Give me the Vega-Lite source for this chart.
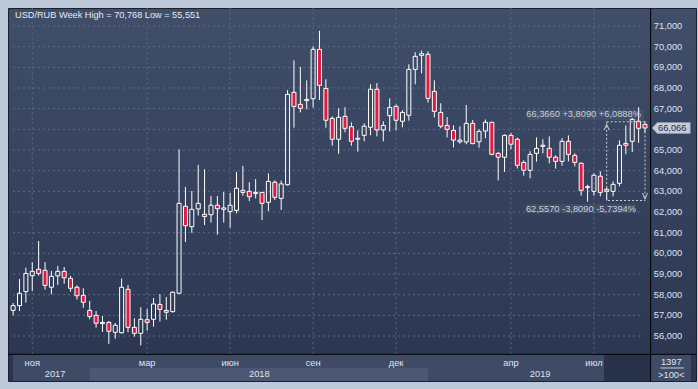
{
  "$schema": "https://vega.github.io/schema/vega-lite/v6.json",
  "width": 688,
  "height": 373,
  "autosize": {"type": "none"},
  "padding": {"left": 8, "top": 8, "right": 2, "bottom": 8},
  "background": "#bdc8d8",
  "datasets": {
    "candles": [
      {"date": "2017-10-09", "open": 57.24, "high": 57.60, "low": 57.00, "close": 57.47},
      {"date": "2017-10-16", "open": 57.47, "high": 58.76, "low": 57.21, "close": 58.07},
      {"date": "2017-10-23", "open": 58.15, "high": 59.31, "low": 57.62, "close": 59.03},
      {"date": "2017-10-30", "open": 58.92, "high": 59.57, "low": 58.18, "close": 59.13},
      {"date": "2017-11-06", "open": 59.23, "high": 60.60, "low": 58.92, "close": 59.03},
      {"date": "2017-11-13", "open": 59.18, "high": 59.58, "low": 58.24, "close": 58.45},
      {"date": "2017-11-20", "open": 58.36, "high": 59.15, "low": 58.02, "close": 58.89},
      {"date": "2017-11-27", "open": 58.91, "high": 59.39, "low": 58.47, "close": 59.13},
      {"date": "2017-12-04", "open": 59.13, "high": 59.34, "low": 58.53, "close": 58.82},
      {"date": "2017-12-11", "open": 58.79, "high": 58.91, "low": 58.15, "close": 58.31},
      {"date": "2017-12-18", "open": 58.36, "high": 58.45, "low": 57.76, "close": 57.95},
      {"date": "2017-12-25", "open": 57.97, "high": 58.31, "low": 57.37, "close": 57.63},
      {"date": "2018-01-01", "open": 57.24, "high": 57.70, "low": 56.81, "close": 56.95},
      {"date": "2018-01-08", "open": 57.00, "high": 57.21, "low": 56.41, "close": 56.62},
      {"date": "2018-01-15", "open": 56.60, "high": 56.97, "low": 56.20, "close": 56.66},
      {"date": "2018-01-22", "open": 56.66, "high": 56.73, "low": 55.62, "close": 56.23},
      {"date": "2018-01-29", "open": 56.18, "high": 56.63, "low": 55.87, "close": 56.52},
      {"date": "2018-02-05", "open": 56.16, "high": 58.78, "low": 56.12, "close": 58.36},
      {"date": "2018-02-12", "open": 58.26, "high": 58.47, "low": 56.18, "close": 56.42},
      {"date": "2018-02-19", "open": 56.42, "high": 56.86, "low": 55.97, "close": 56.13},
      {"date": "2018-02-26", "open": 56.13, "high": 57.39, "low": 55.551, "close": 56.81},
      {"date": "2018-03-05", "open": 56.79, "high": 57.31, "low": 56.26, "close": 56.66},
      {"date": "2018-03-12", "open": 56.81, "high": 57.84, "low": 56.45, "close": 57.55},
      {"date": "2018-03-19", "open": 57.53, "high": 58.03, "low": 56.70, "close": 57.29},
      {"date": "2018-03-26", "open": 57.24, "high": 57.89, "low": 56.79, "close": 57.15},
      {"date": "2018-04-02", "open": 57.18, "high": 58.16, "low": 57.13, "close": 58.12},
      {"date": "2018-04-09", "open": 58.07, "high": 65.03, "low": 58.03, "close": 62.42},
      {"date": "2018-04-16", "open": 62.28, "high": 63.21, "low": 60.55, "close": 61.34},
      {"date": "2018-04-23", "open": 61.29, "high": 63.02, "low": 60.99, "close": 62.13},
      {"date": "2018-04-30", "open": 62.15, "high": 64.28, "low": 61.83, "close": 62.42},
      {"date": "2018-05-07", "open": 61.89, "high": 64.07, "low": 61.37, "close": 61.78},
      {"date": "2018-05-14", "open": 61.87, "high": 62.78, "low": 61.49, "close": 62.33},
      {"date": "2018-05-21", "open": 62.33, "high": 62.78, "low": 60.91, "close": 62.16},
      {"date": "2018-05-28", "open": 62.13, "high": 62.97, "low": 61.49, "close": 62.20},
      {"date": "2018-06-04", "open": 62.02, "high": 62.92, "low": 61.24, "close": 62.33},
      {"date": "2018-06-11", "open": 62.08, "high": 63.94, "low": 61.94, "close": 63.15},
      {"date": "2018-06-18", "open": 63.05, "high": 64.23, "low": 62.79, "close": 62.95},
      {"date": "2018-06-25", "open": 63.00, "high": 63.44, "low": 62.53, "close": 62.74},
      {"date": "2018-07-02", "open": 62.89, "high": 63.60, "low": 62.66, "close": 62.95},
      {"date": "2018-07-09", "open": 62.95, "high": 62.97, "low": 61.61, "close": 62.42},
      {"date": "2018-07-16", "open": 62.47, "high": 63.87, "low": 62.05, "close": 63.48},
      {"date": "2018-07-23", "open": 63.44, "high": 63.53, "low": 62.58, "close": 62.71},
      {"date": "2018-07-30", "open": 62.66, "high": 63.52, "low": 62.10, "close": 63.36},
      {"date": "2018-08-06", "open": 63.32, "high": 67.90, "low": 63.28, "close": 67.69},
      {"date": "2018-08-13", "open": 67.79, "high": 69.34, "low": 66.08, "close": 67.11},
      {"date": "2018-08-20", "open": 67.21, "high": 69.02, "low": 66.82, "close": 67.02},
      {"date": "2018-08-27", "open": 67.39, "high": 68.37, "low": 66.97, "close": 67.45},
      {"date": "2018-09-03", "open": 67.48, "high": 70.02, "low": 67.05, "close": 69.87},
      {"date": "2018-09-10", "open": 69.87, "high": 70.768, "low": 67.42, "close": 68.13},
      {"date": "2018-09-17", "open": 67.98, "high": 68.42, "low": 66.08, "close": 66.44},
      {"date": "2018-09-24", "open": 66.53, "high": 66.63, "low": 65.21, "close": 65.52},
      {"date": "2018-10-01", "open": 65.52, "high": 67.02, "low": 64.82, "close": 66.58},
      {"date": "2018-10-08", "open": 66.63, "high": 67.07, "low": 65.86, "close": 66.05},
      {"date": "2018-10-15", "open": 66.13, "high": 66.34, "low": 65.21, "close": 65.42},
      {"date": "2018-10-22", "open": 65.52, "high": 65.95, "low": 64.92, "close": 65.57},
      {"date": "2018-10-29", "open": 65.71, "high": 66.29, "low": 65.42, "close": 66.15},
      {"date": "2018-11-05", "open": 66.10, "high": 68.18, "low": 65.71, "close": 67.94},
      {"date": "2018-11-12", "open": 67.94, "high": 68.24, "low": 65.66, "close": 65.97},
      {"date": "2018-11-19", "open": 65.97, "high": 66.39, "low": 65.42, "close": 66.19},
      {"date": "2018-11-26", "open": 66.66, "high": 67.50, "low": 65.90, "close": 67.06},
      {"date": "2018-12-03", "open": 67.11, "high": 67.21, "low": 65.95, "close": 66.44},
      {"date": "2018-12-10", "open": 66.39, "high": 66.92, "low": 66.10, "close": 66.82},
      {"date": "2018-12-17", "open": 66.68, "high": 69.15, "low": 66.42, "close": 68.90},
      {"date": "2018-12-24", "open": 68.90, "high": 69.73, "low": 68.18, "close": 69.53},
      {"date": "2018-12-31", "open": 69.58, "high": 69.81, "low": 68.71, "close": 69.66},
      {"date": "2019-01-07", "open": 69.63, "high": 69.77, "low": 67.29, "close": 67.50},
      {"date": "2019-01-14", "open": 67.84, "high": 68.37, "low": 66.58, "close": 66.87},
      {"date": "2019-01-21", "open": 66.82, "high": 67.26, "low": 66.05, "close": 66.15},
      {"date": "2019-01-28", "open": 66.19, "high": 66.60, "low": 65.61, "close": 66.00},
      {"date": "2019-02-04", "open": 65.95, "high": 66.19, "low": 65.13, "close": 65.48},
      {"date": "2019-02-11", "open": 65.40, "high": 66.15, "low": 65.31, "close": 65.48},
      {"date": "2019-02-18", "open": 65.39, "high": 67.18, "low": 65.28, "close": 66.29},
      {"date": "2019-02-25", "open": 66.29, "high": 66.45, "low": 65.28, "close": 65.31},
      {"date": "2019-03-04", "open": 65.40, "high": 66.00, "low": 65.11, "close": 65.90},
      {"date": "2019-03-11", "open": 65.92, "high": 66.48, "low": 65.57, "close": 66.34},
      {"date": "2019-03-18", "open": 66.34, "high": 66.37, "low": 64.74, "close": 64.79},
      {"date": "2019-03-25", "open": 64.84, "high": 64.90, "low": 63.53, "close": 64.65},
      {"date": "2019-04-01", "open": 64.65, "high": 65.76, "low": 63.94, "close": 65.71},
      {"date": "2019-04-08", "open": 65.71, "high": 65.82, "low": 65.03, "close": 65.28},
      {"date": "2019-04-15", "open": 65.52, "high": 65.60, "low": 64.10, "close": 64.26},
      {"date": "2019-04-22", "open": 64.40, "high": 64.50, "low": 63.76, "close": 64.02},
      {"date": "2019-04-29", "open": 64.02, "high": 64.94, "low": 63.63, "close": 64.79},
      {"date": "2019-05-06", "open": 64.84, "high": 65.61, "low": 64.44, "close": 65.08},
      {"date": "2019-05-13", "open": 65.18, "high": 65.52, "low": 64.84, "close": 65.23},
      {"date": "2019-05-20", "open": 65.08, "high": 65.66, "low": 64.36, "close": 64.65},
      {"date": "2019-05-27", "open": 64.65, "high": 64.74, "low": 64.10, "close": 64.45},
      {"date": "2019-06-03", "open": 64.45, "high": 65.57, "low": 64.24, "close": 65.42},
      {"date": "2019-06-10", "open": 65.42, "high": 65.71, "low": 64.45, "close": 64.79},
      {"date": "2019-06-17", "open": 64.74, "high": 64.84, "low": 64.21, "close": 64.40},
      {"date": "2019-06-24", "open": 64.36, "high": 64.40, "low": 62.79, "close": 63.05},
      {"date": "2019-07-01", "open": 63.18, "high": 63.32, "low": 62.50, "close": 63.23},
      {"date": "2019-07-08", "open": 63.00, "high": 63.87, "low": 62.79, "close": 63.78},
      {"date": "2019-07-15", "open": 63.73, "high": 63.97, "low": 62.76, "close": 62.95},
      {"date": "2019-07-22", "open": 63.10, "high": 63.20, "low": 62.557, "close": 63.00},
      {"date": "2019-07-29", "open": 63.00, "high": 63.48, "low": 62.76, "close": 63.34},
      {"date": "2019-08-05", "open": 63.39, "high": 65.47, "low": 63.24, "close": 65.23},
      {"date": "2019-08-12", "open": 65.32, "high": 66.19, "low": 64.79, "close": 65.23},
      {"date": "2019-08-19", "open": 65.42, "high": 66.55, "low": 64.90, "close": 66.48},
      {"date": "2019-08-26", "open": 66.39, "high": 67.07, "low": 65.35, "close": 66.05},
      {"date": "2019-09-02", "open": 66.24, "high": 66.39, "low": 65.85, "close": 66.066}
    ],
    "levels": [
      {"level": 56}, {"level": 57}, {"level": 58}, {"level": 59}, {"level": 60}, {"level": 61},
      {"level": 62}, {"level": 63}, {"level": 64}, {"level": 65}, {"level": 66}, {"level": 67},
      {"level": 68}, {"level": 69}, {"level": 70}, {"level": 71}
    ],
    "months": [
      {"label": "ноя", "date": "2017-10-30"},
      {"label": "мар", "date": "2018-03-05"},
      {"label": "июн", "date": "2018-06-04"},
      {"label": "сен", "date": "2018-09-03"},
      {"label": "дек", "date": "2018-12-03"},
      {"label": "апр", "date": "2019-04-08"},
      {"label": "июл", "date": "2019-07-08"}
    ],
    "years": [
      {"year": "2017", "date": "2017-11-24"},
      {"year": "2018", "date": "2018-07-06"},
      {"year": "2019", "date": "2019-05-10"}
    ],
    "measure": [
      {"from": "2019-07-22", "to": "2019-09-02", "low": 62.557, "high": 66.366,
       "highLabel": "66,3660 +3,8090 +6,0888%", "lowLabel": "62,5570 -3,8090 -5,7394%"}
    ],
    "last": [{"price": 66.066}],
    "heading": [{"text": "USD/RUB Week High = 70,768 Low = 55,551"}]
  },
  "layer": [
    {
      "data": {"name": "levels"},
      "mark": {"type": "rule", "stroke": "#5b6b8a", "strokeDash": [2, 3], "strokeWidth": 1},
      "encoding": {
        "y": {"field": "level", "type": "quantitative", "title": null, "axis": null,
              "scale": {"domain": [53.825, 71.871], "zero": false, "nice": false}},
        "x": {"datum": {"year": 2017, "month": 10, "date": 8, "hours": 21, "utc": true}, "type": "temporal", "axis": null,
              "scale": {"type": "utc", "domain": [{"year": 2017, "month": 10, "date": 8, "hours": 21, "utc": true}, {"year": 2019, "month": 10, "date": 22, "hours": 11, "utc": true}]}},
        "x2": {"datum": {"year": 2019, "month": 8, "date": 30, "utc": true}}
      }
    },
    {
      "data": {"name": "months"},
      "mark": {"type": "rule", "stroke": "#5b6b8a", "strokeDash": [2, 3], "strokeWidth": 1},
      "encoding": {
        "x": {"field": "date", "type": "temporal", "axis": null},
        "y": {"datum": 55.117, "type": "quantitative", "axis": null},
        "y2": {"datum": 71.871}
      }
    },
    {
      "data": {"values": [{"part": "time bar"}]},
      "mark": {"type": "rect", "fill": "#3e4a66"},
      "encoding": {
        "x": {"datum": {"year": 2017, "month": 10, "date": 8, "hours": 21, "utc": true}, "type": "temporal", "axis": null},
        "x2": {"datum": {"year": 2019, "month": 10, "date": 22, "hours": 11, "utc": true}},
        "y": {"datum": 53.825, "type": "quantitative", "axis": null},
        "y2": {"datum": 55.117}
      }
    },
    {
      "data": {"values": [{"year": "2018", "start": "2018-01-01", "end": "2019-01-07"}]},
      "mark": {"type": "rect", "fill": "#4b5773"},
      "encoding": {
        "x": {"field": "start", "type": "temporal", "axis": null},
        "x2": {"field": "end"},
        "y": {"datum": 53.825, "type": "quantitative", "axis": null},
        "y2": {"datum": 54.468}
      }
    },
    {
      "data": {"values": [{"from": "2019-07-19", "to": "2019-09-08"}]},
      "mark": {"type": "rect", "fill": "#27314a"},
      "encoding": {
        "x": {"field": "from", "type": "temporal", "axis": null},
        "x2": {"field": "to"},
        "y": {"datum": 53.825, "type": "quantitative", "axis": null},
        "y2": {"datum": 55.117}
      }
    },
    {
      "data": {"values": [{"part": "time axis line"}]},
      "mark": {"type": "rule", "stroke": "#000000", "strokeWidth": 1},
      "encoding": {
        "y": {"datum": 55.117, "type": "quantitative", "axis": null}
      }
    },
    {
      "data": {"values": [{"part": "price axis line"}]},
      "mark": {"type": "rule", "stroke": "#000000", "strokeWidth": 1},
      "encoding": {
        "x": {"datum": {"year": 2019, "month": 9, "date": 8, "hours": 4, "utc": true}, "type": "temporal", "axis": null}
      }
    },
    {
      "data": {"name": "levels"},
      "transform": [{"filter": "datum.level != 66"}],
      "mark": {"type": "text", "color": "#dce5f4", "font": "Liberation Sans", "fontSize": 9.3, "align": "left", "baseline": "middle"},
      "encoding": {
        "x": {"datum": {"year": 2019, "month": 9, "date": 11, "hours": 16, "utc": true}, "type": "temporal", "axis": null},
        "y": {"field": "level", "type": "quantitative", "axis": null, "title": null},
        "text": {"field": "level", "type": "quantitative", "format": ".3f"}
      }
    },
    {
      "data": {"name": "heading"},
      "mark": {"type": "text", "color": "#e6ebf3", "font": "Liberation Sans", "fontSize": 9.2, "align": "left", "baseline": "middle", "dx": 2},
      "encoding": {
        "x": {"datum": {"year": 2017, "month": 10, "date": 8, "hours": 21, "utc": true}, "type": "temporal", "axis": null},
        "y": {"datum": 71.532, "type": "quantitative", "axis": null},
        "text": {"field": "text"}
      }
    },
    {
      "data": {"name": "months"},
      "mark": {"type": "text", "color": "#dfe5ee", "font": "Liberation Sans", "fontSize": 9.3, "baseline": "middle", "align": "center"},
      "encoding": {
        "x": {"field": "date", "type": "temporal", "axis": null},
        "y": {"datum": 54.681, "type": "quantitative", "axis": null},
        "text": {"field": "label"}
      }
    },
    {
      "data": {"name": "years"},
      "mark": {"type": "text", "color": "#dfe5ee", "font": "Liberation Sans", "fontSize": 9.3, "baseline": "middle", "align": "center"},
      "encoding": {
        "x": {"field": "date", "type": "temporal", "axis": null},
        "y": {"datum": 54.163, "type": "quantitative", "axis": null},
        "text": {"field": "year"}
      }
    },
    {
      "data": {"values": [{"t": "1397"}]},
      "mark": {"type": "text", "color": "#dfe5ee", "font": "Liberation Sans", "fontSize": 9.3, "baseline": "middle", "align": "center"},
      "encoding": {
        "x": {"datum": {"year": 2019, "month": 9, "date": 30, "hours": 19, "utc": true}, "type": "temporal", "axis": null},
        "y": {"datum": 54.759, "type": "quantitative", "axis": null},
        "text": {"field": "t"}
      }
    },
    {
      "data": {"values": [{"t": ">100<"}]},
      "mark": {"type": "text", "color": "#dfe5ee", "font": "Liberation Sans", "fontSize": 9.3, "baseline": "middle", "align": "center"},
      "encoding": {
        "x": {"datum": {"year": 2019, "month": 9, "date": 30, "hours": 19, "utc": true}, "type": "temporal", "axis": null},
        "y": {"datum": 54.130, "type": "quantitative", "axis": null},
        "text": {"field": "t"}
      }
    },
    {
      "data": {"values": [{"part": "separator"}]},
      "mark": {"type": "rule", "stroke": "#c8d0dc", "strokeWidth": 1},
      "encoding": {
        "x": {"datum": {"year": 2019, "month": 9, "date": 18, "hours": 21, "utc": true}, "type": "temporal", "axis": null},
        "x2": {"datum": {"year": 2019, "month": 10, "date": 14, "hours": 21, "utc": true}},
        "y": {"datum": 54.454, "type": "quantitative", "axis": null}
      }
    },
    {
      "data": {"name": "candles"},
      "transform": [{"filter": "datum.close >= datum.open"}],
      "mark": {"type": "rule", "stroke": "#ffffff", "strokeWidth": 1, "clip": true},
      "encoding": {
        "x": {"field": "date", "type": "temporal", "axis": null},
        "y": {"field": "high", "type": "quantitative", "axis": null, "title": null},
        "y2": {"field": "close"}
      }
    },
    {
      "data": {"name": "candles"},
      "transform": [{"filter": "datum.close >= datum.open"}],
      "mark": {"type": "rule", "stroke": "#ffffff", "strokeWidth": 1, "clip": true},
      "encoding": {
        "x": {"field": "date", "type": "temporal", "axis": null},
        "y": {"field": "open", "type": "quantitative", "axis": null, "title": null},
        "y2": {"field": "low"}
      }
    },
    {
      "data": {"name": "candles"},
      "transform": [{"filter": "datum.close < datum.open"}],
      "mark": {"type": "rule", "stroke": "#ffffff", "strokeWidth": 1, "clip": true},
      "encoding": {
        "x": {"field": "date", "type": "temporal", "axis": null},
        "y": {"field": "high", "type": "quantitative", "axis": null, "title": null},
        "y2": {"field": "open"}
      }
    },
    {
      "data": {"name": "candles"},
      "transform": [{"filter": "datum.close < datum.open"}],
      "mark": {"type": "rule", "stroke": "#ffffff", "strokeWidth": 1, "clip": true},
      "encoding": {
        "x": {"field": "date", "type": "temporal", "axis": null},
        "y": {"field": "close", "type": "quantitative", "axis": null, "title": null},
        "y2": {"field": "low"}
      }
    },
    {
      "data": {"name": "candles"},
      "transform": [{"filter": "datum.close >= datum.open"}],
      "mark": {"type": "bar", "size": 4, "fill": "transparent", "stroke": "#ffffff", "strokeWidth": 1, "clip": true},
      "encoding": {
        "x": {"field": "date", "type": "temporal", "axis": null},
        "y": {"field": "open", "type": "quantitative", "axis": null, "title": null},
        "y2": {"field": "close"}
      }
    },
    {
      "data": {"name": "candles"},
      "transform": [{"filter": "datum.close < datum.open"}],
      "mark": {"type": "bar", "size": 4, "fill": "#e3193f", "stroke": "#ffffff", "strokeWidth": 1, "clip": true},
      "encoding": {
        "x": {"field": "date", "type": "temporal", "axis": null},
        "y": {"field": "open", "type": "quantitative", "axis": null, "title": null},
        "y2": {"field": "close"}
      }
    },
    {
      "data": {"name": "measure"},
      "mark": {"type": "rect", "fill": "#ffffff", "fillOpacity": 0.055},
      "encoding": {
        "x": {"datum": {"year": 2019, "month": 4, "date": 26, "hours": 2, "utc": true}, "type": "temporal", "axis": null},
        "x2": {"datum": {"year": 2019, "month": 8, "date": 31, "hours": 14, "utc": true}},
        "y": {"datum": 66.452, "type": "quantitative", "axis": null},
        "y2": {"datum": 66.936}
      }
    },
    {
      "data": {"name": "measure"},
      "mark": {"type": "rect", "fill": "#ffffff", "fillOpacity": 0.055},
      "encoding": {
        "x": {"datum": {"year": 2019, "month": 4, "date": 23, "hours": 21, "utc": true}, "type": "temporal", "axis": null},
        "x2": {"datum": {"year": 2019, "month": 8, "date": 23, "utc": true}},
        "y": {"datum": 61.953, "type": "quantitative", "axis": null},
        "y2": {"datum": 62.388}
      }
    },
    {
      "data": {"name": "measure"},
      "mark": {"type": "rect", "fill": "transparent", "stroke": "#c9ced8", "strokeWidth": 1, "strokeDash": [2, 2]},
      "encoding": {
        "x": {"field": "from", "type": "temporal", "axis": null},
        "x2": {"field": "to"},
        "y": {"field": "low", "type": "quantitative", "axis": null, "title": null},
        "y2": {"field": "high"}
      }
    },
    {
      "data": {"name": "measure"},
      "mark": {"type": "point", "shape": "M -1 3.3 L 0 1 L 1 3.3", "size": 25, "filled": false, "stroke": "#c9ced8", "strokeWidth": 1, "opacity": 1},
      "encoding": {
        "x": {"field": "from", "type": "temporal", "axis": null},
        "y": {"field": "high", "type": "quantitative", "axis": null, "title": null}
      }
    },
    {
      "data": {"name": "measure"},
      "mark": {"type": "point", "shape": "M -1 -3 L 0 -0.6 L 1 -3", "size": 25, "filled": false, "stroke": "#c9ced8", "strokeWidth": 1, "opacity": 1},
      "encoding": {
        "x": {"field": "to", "type": "temporal", "axis": null},
        "y": {"field": "low", "type": "quantitative", "axis": null, "title": null}
      }
    },
    {
      "data": {"name": "measure"},
      "mark": {"type": "text", "color": "#c9d0db", "font": "Liberation Sans", "fontSize": 9.3, "align": "right", "baseline": "middle", "dx": -4, "dy": -8},
      "encoding": {
        "x": {"field": "to", "type": "temporal", "axis": null},
        "y": {"field": "high", "type": "quantitative", "axis": null, "title": null},
        "text": {"field": "highLabel"}
      }
    },
    {
      "data": {"name": "measure"},
      "mark": {"type": "text", "color": "#c9d0db", "font": "Liberation Sans", "fontSize": 9.3, "align": "right", "baseline": "middle", "dx": -9, "dy": 8},
      "encoding": {
        "x": {"field": "to", "type": "temporal", "axis": null},
        "y": {"field": "low", "type": "quantitative", "axis": null, "title": null},
        "text": {"field": "lowLabel"}
      }
    },
    {
      "data": {"name": "last"},
      "mark": {"type": "point", "shape": "M -1 0 L -0.737 -0.289 L 1 -0.289 L 1 0.289 L -0.737 0.289 Z", "size": 1444, "filled": true, "fill": "#c7ced9", "stroke": "#8c96a8", "strokeWidth": 0.8, "opacity": 1},
      "encoding": {
        "x": {"datum": {"year": 2019, "month": 9, "date": 30, "hours": 19, "utc": true}, "type": "temporal", "axis": null},
        "y": {"field": "price", "type": "quantitative", "axis": null, "title": null}
      }
    },
    {
      "data": {"name": "last"},
      "mark": {"type": "text", "color": "#1c2b4a", "font": "Liberation Sans", "fontSize": 9.3, "align": "center", "baseline": "middle", "dx": 1},
      "encoding": {
        "x": {"datum": {"year": 2019, "month": 9, "date": 30, "hours": 19, "utc": true}, "type": "temporal", "axis": null},
        "y": {"field": "price", "type": "quantitative", "axis": null, "title": null},
        "text": {"field": "price", "type": "quantitative", "format": ".3f"}
      }
    }
  ],
  "config": {
    "locale": {"number": {"decimal": ",", "thousands": " ", "grouping": [3], "currency": ["", ""]}},
    "view": {
      "fill": {"gradient": "linear", "x1": 0, "y1": 0, "x2": 0, "y2": 1,
               "stops": [{"offset": 0, "color": "#404e6a"}, {"offset": 1, "color": "#2b3550"}]},
      "stroke": "#1a2030",
      "strokeWidth": 1
    }
  }
}
